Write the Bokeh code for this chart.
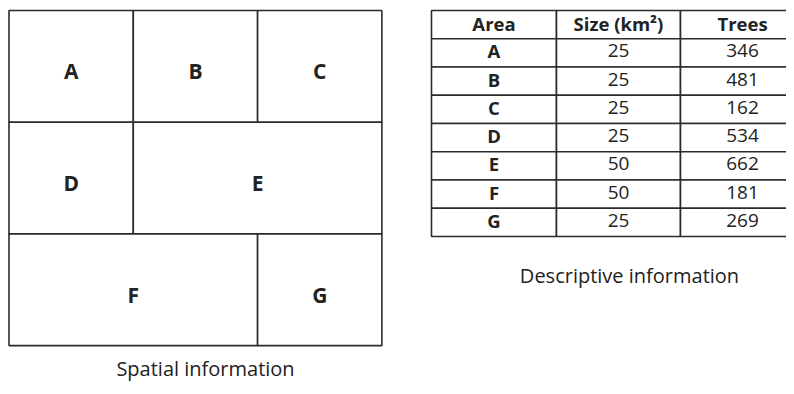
from bokeh.plotting import figure
from bokeh.models import Range1d, ColumnDataSource
from bokeh.embed import file_html
from bokeh.resources import INLINE
from bokeh.core.properties import value

# ---- data ----
areas = ["A", "B", "C", "D", "E", "F", "G"]
sizes = [25, 25, 25, 25, 50, 50, 25]
trees = [346, 481, 162, 534, 662, 181, 269]
# map layout: grid column, grid row, column span (in 25 km2 cells)
map_col = [0, 1, 2, 0, 1, 0, 2]
map_row = [0, 0, 0, 1, 1, 2, 2]
map_span = [1, 1, 1, 1, 2, 2, 1]
headers = ["Area", "Size (km\u00b2)", "Trees"]
captions = ["Spatial information", "Descriptive information"]

FONT = "Open Sans"
LINE = "#2b2b2b"
TXT = "#222222"

W, H = 786, 386
p = figure(width=W, height=H, output_backend="svg", toolbar_location=None,
           x_range=Range1d(0, W), y_range=Range1d(H, 0),
           min_border=0, outline_line_color=None)
p.axis.visible = False
p.grid.visible = False
p.background_fill_color = "white"

# ---- map ----
mx0, my0 = 8.5, 10.0
cw, ch = 124.3, 111.7
left = [mx0 + c * cw for c in map_col]
right = [mx0 + (c + s) * cw for c, s in zip(map_col, map_span)]
top = [my0 + r * ch for r in map_row]
bottom = [my0 + (r + 1) * ch for r in map_row]
msrc = ColumnDataSource(dict(left=left, right=right, top=top, bottom=bottom,
                             cx=[(l + r) / 2 for l, r in zip(left, right)],
                             cy=[(t + b) / 2 + 5 for t, b in zip(top, bottom)],
                             name=areas))
p.quad(left="left", right="right", top="top", bottom="bottom", source=msrc,
       fill_color="white", line_color=LINE, line_width=1.6)
p.text(x="cx", y="cy", text="name", source=msrc, text_align="center",
       text_baseline="middle", text_font=value(FONT), text_font_style="bold",
       text_font_size="21px", text_color=TXT)

# ---- table ----
tx = [431, 556, 680, 804]
ty0, rh = 10.0, 28.25
nrows = len(areas) + 1
cl, cr, ct, cb = [], [], [], []
for r in range(nrows):
    for c in range(3):
        cl.append(tx[c]); cr.append(tx[c + 1])
        ct.append(ty0 + r * rh); cb.append(ty0 + (r + 1) * rh)
p.quad(left=cl, right=cr, top=ct, bottom=cb, fill_color="white",
       line_color=LINE, line_width=1.6)

ccx = [(tx[i] + tx[i + 1]) / 2 for i in range(3)]
# header
p.text(x=ccx, y=[ty0 + rh / 2 - 1] * 3, text=headers, text_align="center",
       text_baseline="middle", text_font=value(FONT), text_font_style="bold",
       text_font_size="18.5px", text_color=TXT)
rows_y = [ty0 + (i + 1.5) * rh - 2 for i in range(len(areas))]
p.text(x=[ccx[0]] * len(areas), y=rows_y, text=areas, text_align="center",
       text_baseline="middle", text_font=value(FONT), text_font_style="bold",
       text_font_size="18.5px", text_color=TXT)
p.text(x=[ccx[1]] * len(areas), y=rows_y, text=[str(s) for s in sizes],
       text_align="center", text_baseline="middle", text_font=value(FONT),
       text_font_size="19px", text_color=TXT)
p.text(x=[ccx[2]] * len(areas), y=rows_y, text=[str(t) for t in trees],
       text_align="center", text_baseline="middle", text_font=value(FONT),
       text_font_size="19px", text_color=TXT)

# ---- captions ----
p.text(x=[205, 629], y=[368, 275], text=captions, text_align="center",
       text_baseline="middle", text_font=value(FONT), text_font_size="20px",
       text_color=TXT)

open("out.html", "w").write(file_html(p, INLINE))
